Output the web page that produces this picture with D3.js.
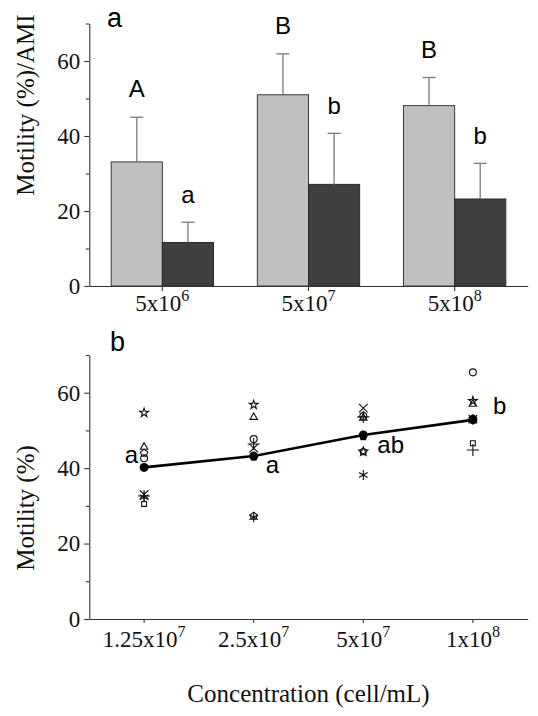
<!DOCTYPE html>
<html><head><meta charset="utf-8">
<script src="https://cdn.jsdelivr.net/npm/d3@7"></script>
<style>body{margin:0;background:#fff}svg{display:block}</style>
</head><body><svg id="c" width="538" height="716"></svg>
<script>
// ---- Panel a data ----
const groupsA = ["5x10^6", "5x10^7", "5x10^8"];
const groupBaseA = ["5x10", "5x10", "5x10"];
const groupExpA = ["6", "7", "8"];
const lightValues = [33.1, 51.0, 48.1];
const lightErrTop = [45.0, 61.9, 55.6];
const darkValues = [11.6, 27.1, 23.2];
const darkErrTop = [17.0, 40.7, 32.7];
const lightLetters = ["A", "B", "B"];
const darkLetters = ["a", "b", "b"];
const yMajorTicks = [0, 20, 40, 60];
const yMinorTicks = [10, 30, 50, 70];

// ---- Panel b data ----
const concs = ["1.25x10^7", "2.5x10^7", "5x10^7", "1x10^8"];
const concBase = ["1.25x10", "2.5x10", "5x10", "1x10"];
const concExp = ["7", "7", "7", "8"];
const meanValues = [40.2, 43.2, 48.8, 52.8];
const meanLetters = ["a", "a", "ab", "b"];
const starVals = [54.7, 56.8, 44.4, 57.8];
const triangleVals = [45.6, 53.5, 53.3, 57.0];
const circleVals = [42.6, 47.7, 53.8, 65.4];
const pentagonVals = [44.0, 27.3, 44.4, 53.2];
const squareVals = [30.5, 42.8, 48.2, 46.6];
const timesVals = [33.0, 45.3, 55.9, 53.0];
const asteriskVals = [32.3, 27.0, 38.2, 52.8];
const plusVals = [32.6, 46.4, 53.6, 44.8];

const svg = d3.select("#c");
const serif = "'Liberation Serif','Times New Roman',serif";
const sans = "'Liberation Sans',Arial,sans-serif";
const axisCol = "#333";

// ================= Panel a =================
const xA = d3.scaleBand().domain(groupsA).range([89.3, 527.7]).paddingInner(0.3).paddingOuter(0.15);
const yA = d3.scaleLinear().domain([0, 70]).range([286, 23.5]);
const bw = xA.bandwidth() / 2;

const gA = svg.append("g");
const barsData = groupsA.map((g, i) => ({g, i}));
gA.selectAll("rect.l").data(barsData).join("rect")
  .attr("x", d => xA(d.g)).attr("y", d => yA(lightValues[d.i]))
  .attr("width", bw).attr("height", d => yA(0) - yA(lightValues[d.i]))
  .attr("fill", "#c0c0c0").attr("stroke", "#3a3a3a").attr("stroke-width", 1);
gA.selectAll("rect.d").data(barsData).join("rect")
  .attr("x", d => xA(d.g) + bw).attr("y", d => yA(darkValues[d.i]))
  .attr("width", bw).attr("height", d => yA(0) - yA(darkValues[d.i]))
  .attr("fill", "#3f3f3f").attr("stroke", "#2a2a2a").attr("stroke-width", 1);

function errBar(cx, v, top) {
  const g = gA.append("g").attr("stroke", "#7a7a7a").attr("stroke-width", 1.3);
  g.append("line").attr("x1", cx).attr("x2", cx).attr("y1", yA(v)).attr("y2", yA(top));
  g.append("line").attr("x1", cx - 6.5).attr("x2", cx + 6.5).attr("y1", yA(top)).attr("y2", yA(top));
}
barsData.forEach(d => {
  const cl = xA(d.g) + bw / 2, cd = xA(d.g) + bw * 1.5;
  errBar(cl, lightValues[d.i], lightErrTop[d.i]);
  errBar(cd, darkValues[d.i], darkErrTop[d.i]);
  gA.append("text").attr("x", cl).attr("y", yA(lightErrTop[d.i]) - 20)
    .attr("text-anchor", "middle").attr("font-family", sans).attr("font-size", 24).text(lightLetters[d.i]);
  gA.append("text").attr("x", cd).attr("y", yA(darkErrTop[d.i]) - 19)
    .attr("text-anchor", "middle").attr("font-family", sans).attr("font-size", 24).text(darkLetters[d.i]);
});

function styleAxis(g) {
  g.selectAll("path,line").attr("stroke", axisCol).attr("stroke-width", 1.1);
  g.selectAll("text").attr("font-family", serif).attr("font-size", 23).attr("fill", "#111");
}
const yAxA = svg.append("g").attr("transform", "translate(89.3,0)")
  .call(d3.axisLeft(yA).tickValues(yMajorTicks).tickSize(5).tickSizeOuter(0).tickPadding(4).tickFormat(d3.format("d")));
styleAxis(yAxA);
const yMinA = svg.append("g").attr("transform", "translate(89.3,0)")
  .call(d3.axisLeft(yA).tickValues(yMinorTicks).tickSize(3.5).tickSizeOuter(0).tickFormat(""));
yMinA.select(".domain").remove(); styleAxis(yMinA);
const xAxA = svg.append("g").attr("transform", "translate(0,286)")
  .call(d3.axisBottom(xA).tickSize(5).tickSizeOuter(0).tickFormat(""));
styleAxis(xAxA);
xAxA.selectAll(".tick").append("text").attr("y", 25).attr("text-anchor", "middle")
  .attr("font-family", serif).attr("font-size", 23).attr("fill", "#111")
  .each(function(d) {
    const i = groupsA.indexOf(d);
    const t = d3.select(this);
    t.append("tspan").text(groupBaseA[i]);
    t.append("tspan").attr("dy", -10).attr("font-size", 16).text(groupExpA[i]);
  });

svg.append("text").attr("x", 107).attr("y", 27).attr("font-family", sans).attr("font-size", 27).text("a");
svg.append("text").attr("transform", "translate(34,105) rotate(-90)").attr("text-anchor", "middle")
  .attr("font-family", serif).attr("font-size", 25).attr("fill", "#111").text("Motility (%)/AMI");

// ================= Panel b =================
const xB = d3.scaleBand().domain(concs).range([89.3, 527.7]);
const yB = d3.scaleLinear().domain([0, 70]).range([619, 355]);
const cx = d => xB(d) + xB.bandwidth() / 2;

const yAxB = svg.append("g").attr("transform", "translate(89.3,0)")
  .call(d3.axisLeft(yB).tickValues(yMajorTicks).tickSize(5).tickSizeOuter(0).tickPadding(4).tickFormat(d3.format("d")));
styleAxis(yAxB);
const yMinB = svg.append("g").attr("transform", "translate(89.3,0)")
  .call(d3.axisLeft(yB).tickValues(yMinorTicks).tickSize(3.5).tickSizeOuter(0).tickFormat(""));
yMinB.select(".domain").remove(); styleAxis(yMinB);
const xAxB = svg.append("g").attr("transform", "translate(0,619)")
  .call(d3.axisBottom(xB).tickSize(4).tickSizeOuter(0).tickFormat(""));
styleAxis(xAxB);
xAxB.selectAll(".tick").append("text").attr("y", 27.5).attr("text-anchor", "middle")
  .attr("font-family", serif).attr("font-size", 23).attr("fill", "#111")
  .each(function(d) {
    const i = concs.indexOf(d);
    const t = d3.select(this);
    t.append("tspan").text(concBase[i]);
    t.append("tspan").attr("dy", -10).attr("font-size", 16).text(concExp[i]);
  });

const symbolPentagon = {
  draw(ctx, size) {
    const r = Math.sqrt(size / 2.378);
    for (let k = 0; k < 5; k++) {
      const a = -Math.PI / 2 + k * 2 * Math.PI / 5;
      const px = r * Math.cos(a), py = r * Math.sin(a);
      k ? ctx.lineTo(px, py) : ctx.moveTo(px, py);
    }
    ctx.closePath();
  }
};
const seriesB = [
  {vals: starVals, type: d3.symbolStar, size: 24},
  {vals: triangleVals, type: d3.symbolTriangle2, size: 40},
  {vals: circleVals, type: d3.symbolCircle, size: 38},
  {vals: pentagonVals, type: symbolPentagon, size: 34},
  {vals: squareVals, type: d3.symbolSquare2, size: 30},
  {vals: timesVals, type: d3.symbolTimes, size: 50},
  {vals: asteriskVals, type: d3.symbolAsterisk, size: 70},
  {vals: plusVals, type: d3.symbolPlus, size: 50}
];
const gB = svg.append("g");
seriesB.forEach(s => {
  gB.selectAll(null).data(concs).join("path")
    .attr("transform", (d, i) => `translate(${cx(d)},${yB(s.vals[i])})`)
    .attr("d", d3.symbol(s.type, s.size)())
    .attr("fill", "none").attr("stroke", "#111").attr("stroke-width", 1.1);
});
const meanPts = concs.map((c, i) => [cx(c), yB(meanValues[i])]);
gB.append("path").attr("d", d3.line()(meanPts)).attr("fill", "none")
  .attr("stroke", "#000").attr("stroke-width", 2.6);
gB.selectAll("circle.m").data(meanPts).join("circle")
  .attr("cx", d => d[0]).attr("cy", d => d[1]).attr("r", 4.5).attr("fill", "#000");
const lblOff = [[-6, -4, "end"], [12, 17, "start"], [14, 18, "start"], [20, -6, "start"]];
meanPts.forEach((p, i) => {
  gB.append("text").attr("x", p[0] + lblOff[i][0]).attr("y", p[1] + lblOff[i][1])
    .attr("text-anchor", lblOff[i][2]).attr("font-family", sans).attr("font-size", 24).text(meanLetters[i]);
});

svg.append("text").attr("x", 110).attr("y", 351).attr("font-family", sans).attr("font-size", 27).text("b");
svg.append("text").attr("transform", "translate(34,508) rotate(-90)").attr("text-anchor", "middle")
  .attr("font-family", serif).attr("font-size", 25).attr("fill", "#111").text("Motility (%)");
svg.append("text").attr("x", 308.5).attr("y", 702).attr("text-anchor", "middle")
  .attr("font-family", serif).attr("font-size", 25).attr("fill", "#111").text("Concentration (cell/mL)");
</script></body></html>
